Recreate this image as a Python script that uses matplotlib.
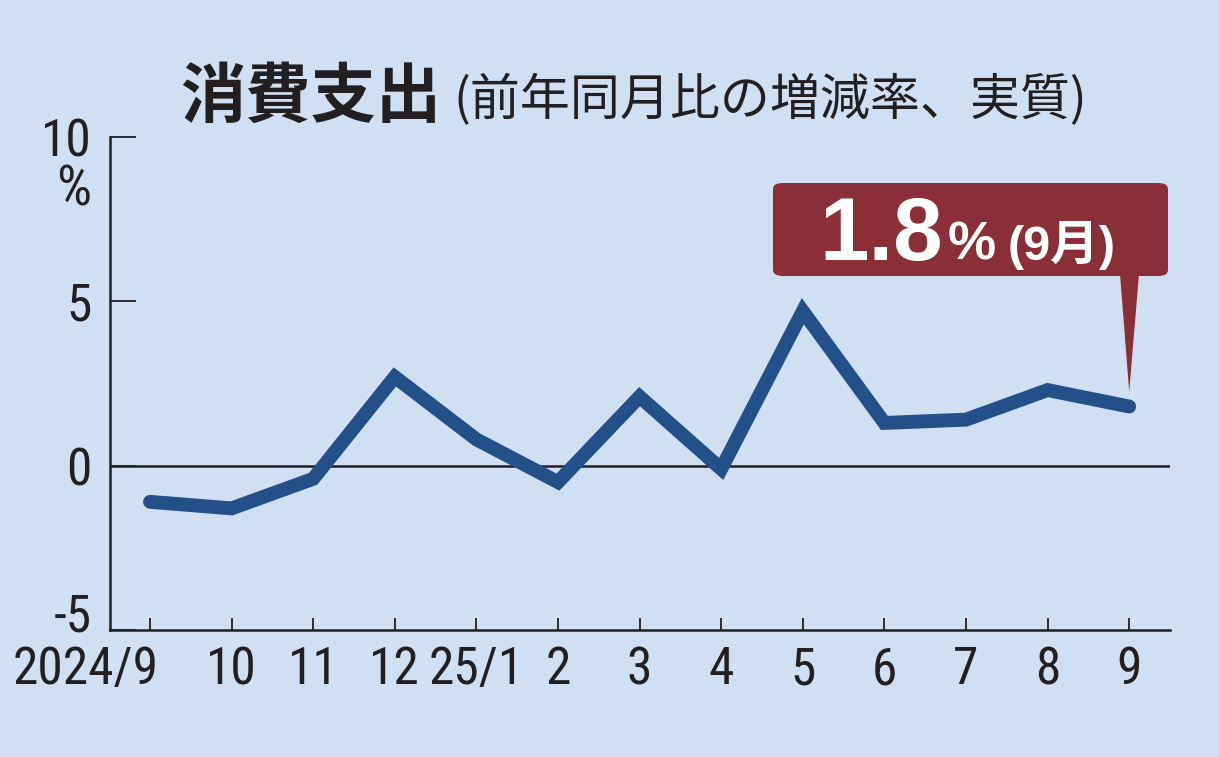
import matplotlib
matplotlib.use("Agg")
import matplotlib.pyplot as plt
import matplotlib.transforms as mtransforms
from matplotlib import font_manager
from matplotlib.font_manager import FontProperties
from matplotlib.patches import FancyBboxPatch, Polygon
from matplotlib.text import Annotation

# 消費支出 前年同月比 (%), 2024/9 - 2025/9
months = ["2024/9", "10", "11", "12", "25/1", "2", "3", "4", "5", "6", "7", "8", "9"]
spending = [-1.1, -1.3, -0.4, 2.7, 0.8, -0.5, 2.1, -0.1, 4.7, 1.3, 1.4, 2.3, 1.8]
yticks = [-5, 0, 5, 10]

BG = "#d0e0f2"
LINE = "#245089"
BOX = "#8a2e38"
INK = "#231f20"
cjk = "Noto Sans CJK JP"


def pick_condensed():
    # the tick numbers in the original are a narrow sans, use one if installed
    fl = font_manager.fontManager.ttflist
    regular = [f for f in fl if f.style == "normal" and f.weight in (400, "normal", "regular")]
    for name in ["Liberation Sans Narrow", "Roboto Condensed", "Open Sans Condensed",
                 "Noto Sans Condensed", "DejaVu Sans Condensed"]:
        for f in regular:
            if f.name == name:
                return f.fname
    for f in regular:
        if f.stretch in ("condensed", "semi-condensed") and f.name in (
                "DejaVu Sans", "Noto Sans", "Open Sans", "Roboto", "Liberation Sans"):
            return f.fname
    return None


narrow = pick_condensed()
if narrow:
    num_fp = FontProperties(fname=narrow, size=37)
    pct_fp = FontProperties(fname=narrow, size=40)
else:
    num_fp = FontProperties(family="Liberation Sans", size=34)
    pct_fp = FontProperties(family="Liberation Sans", size=34)

W, H = 1219, 757
fig = plt.figure(figsize=(W / 100, H / 100), dpi=100, facecolor=BG)
ax = fig.add_axes([110 / W, (H - 630) / H, (1170 - 110) / W, (630 - 137) / H])
ax.set_facecolor(BG)

x = list(range(len(months)))
ax.axhline(0, color=INK, lw=1.8, zorder=1)
ax.plot(x, spending, color=LINE, lw=10, solid_capstyle="round",
        solid_joinstyle="miter", zorder=3)

ax.set_xlim(-0.49, 12.5)
ax.set_ylim(-5, 10)
for s in ["top", "right"]:
    ax.spines[s].set_visible(False)
for s in ["left", "bottom"]:
    ax.spines[s].set_color(INK)
    ax.spines[s].set_linewidth(1.8)

ax.set_xticks(x)
ax.set_xticklabels(months)
ax.set_yticks(yticks)
ax.set_yticklabels([str(v) for v in yticks])
ax.tick_params(axis="y", direction="in", length=19, width=1.3, color=INK, pad=13)
ax.tick_params(axis="x", direction="in", length=9, width=1.3, color=INK, pad=11)
for lab in ax.get_xticklabels() + ax.get_yticklabels():
    lab.set_fontproperties(num_fp)
    lab.set_color(INK)

# first month label sits with its "9" on the tick
first = ax.get_xticklabels()[0]
first.set_horizontalalignment("right")
first.set_transform(first.get_transform() +
                    mtransforms.ScaledTranslation(0.09, 0, fig.dpi_scale_trans))
# bottom y label is lifted clear of the month labels
low = ax.get_yticklabels()[0]
low.set_transform(low.get_transform() +
                  mtransforms.ScaledTranslation(0, 0.18, fig.dpi_scale_trans))

# unit
fig.text(91 / W, (H - 190) / H, "%", fontproperties=pct_fp, color=INK,
         ha="right", va="center")

# title
title = fig.text(180 / W, (H - 117) / H, "消費支出", fontsize=47, weight="bold",
                 family=cjk, color=INK, va="baseline")
fig.add_artist(Annotation("(前年同月比の増減率、実質)", xy=(1, (H - 115) / H),
                          xycoords=(title, "figure fraction"),
                          xytext=(12, 0), textcoords="offset pixels",
                          fontsize=36, family=cjk, color=INK,
                          va="baseline", ha="left", annotation_clip=False))

# callout for the latest value
box = FancyBboxPatch((773 / W, (H - 276) / H), (1168 - 773) / W, (276 - 183) / H,
                     boxstyle="round,pad=0,rounding_size=0.008",
                     transform=fig.transFigure, facecolor=BOX, edgecolor="none")
fig.patches.append(box)

tip = ax.transData.transform((x[-1], spending[-1]))
tip_fig = fig.transFigure.inverted().transform((tip[0], tip[1] + 15))
pointer = Polygon([(1120 / W, (H - 274) / H), (1139 / W, (H - 274) / H), tip_fig],
                  closed=True, transform=fig.transFigure, facecolor=BOX,
                  edgecolor="none")
fig.patches.append(pointer)

base = (H - 260) / H
val = fig.text(819 / W, base, f"{spending[-1]:.1f}", fontsize=64,
               weight="bold", family="Liberation Sans", color="white",
               va="baseline", zorder=5)
pct = fig.add_artist(Annotation("%", xy=(1, base), xycoords=(val, "figure fraction"),
                                xytext=(5, 0), textcoords="offset pixels",
                                fontsize=39, weight="bold", family="Liberation Sans",
                                color="white", va="baseline", ha="left",
                                annotation_clip=False, zorder=5))
fig.add_artist(Annotation("(9月)", xy=(1, base), xycoords=(pct, "figure fraction"),
                          xytext=(12, 0), textcoords="offset pixels",
                          fontsize=35, weight="bold", family=["Liberation Sans", cjk],
                          color="white", va="baseline", ha="left",
                          annotation_clip=False, zorder=5))

fig.savefig("out.png", dpi=100, facecolor=BG)
